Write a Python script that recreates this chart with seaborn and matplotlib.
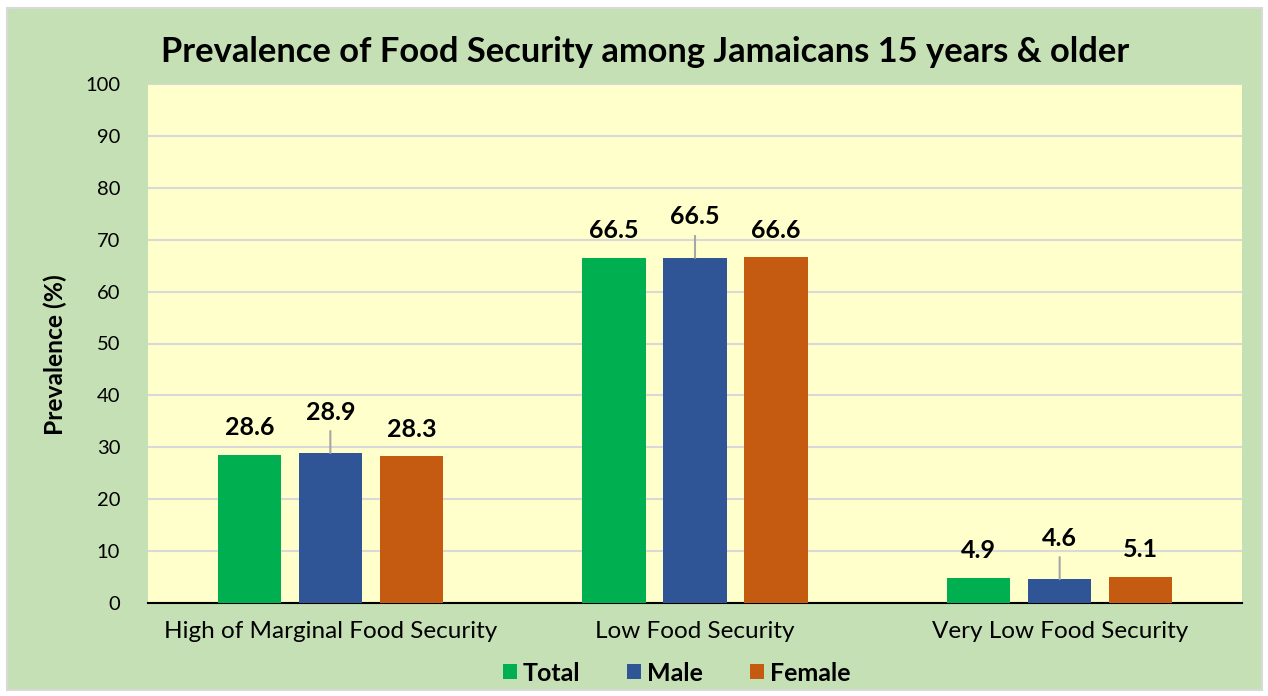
import pandas as pd
import matplotlib.pyplot as plt
import seaborn as sns
from matplotlib.patches import Rectangle

# values
categories = ['High of Marginal Food Security', 'Low Food Security', 'Very Low Food Security']
groups = ['Total', 'Male', 'Female']
total = [28.6, 66.5, 4.9]
male = [28.9, 66.5, 4.6]
female = [28.3, 66.6, 5.1]
yticks = [0, 10, 20, 30, 40, 50, 60, 70, 80, 90, 100]

colors = ['#00B050', '#2F5597', '#C55A11']
# labels that sit higher with a leader line (group, category index)
leader = {('Male', 0), ('Male', 1), ('Male', 2)}

df = pd.DataFrame({
    'category': categories * 3,
    'group': [g for g in groups for _ in categories],
    'value': total + male + female,
})

sns.set_style('white')
plt.rcParams['font.family'] = ['Lato', 'DejaVu Sans']
plt.rcParams['text.color'] = 'black'
plt.rcParams['xtick.color'] = 'black'
plt.rcParams['ytick.color'] = 'black'
plt.rcParams['axes.labelcolor'] = 'black'

fig = plt.figure(figsize=(12.68, 6.96), dpi=100, facecolor='white')
fig.patches.append(Rectangle((7 / 1268, 6 / 696), 1255 / 1268, 682 / 696,
                             transform=fig.transFigure, facecolor='#C5E0B4',
                             edgecolor='#D9D9D9', linewidth=1.5, zorder=-5))

ax = fig.add_axes([148 / 1268, 93 / 696, 1094 / 1268, 519 / 696])
ax.set_facecolor('#FFFFCC')

sns.barplot(data=df, x='category', y='value', hue='group', hue_order=groups,
            palette=colors, width=0.666, gap=0.22, saturation=1,
            edgecolor='none', ax=ax, legend=True, zorder=3)

ax.set_ylim(0, 100)
ax.set_xlim(-0.5, 2.5)
ax.set_yticks(yticks)
ax.yaxis.grid(True, color='#D9D9D9', linewidth=1.5, zorder=0)
ax.set_axisbelow(True)
for s in ['top', 'right', 'left']:
    ax.spines[s].set_visible(False)
ax.spines['bottom'].set_color('black')
ax.spines['bottom'].set_linewidth(1.5)
ax.tick_params(axis='y', length=0, labelsize=14.5, pad=20)
ax.tick_params(axis='x', length=0, labelsize=17.5, pad=13)
ax.set_xlabel('')
ax.set_ylabel('Prevalence (%)', fontsize=17.7, fontweight='bold', labelpad=13)
ax.yaxis.label.set_y(0.478)

for cont, g in zip(ax.containers, groups):
    for i, bar in enumerate(cont):
        x = bar.get_x() + bar.get_width() / 2
        h = bar.get_height()
        if (g, i) in leader:
            ax.annotate('', xy=(x, h), xytext=(0, 22), textcoords='offset pixels',
                        arrowprops=dict(arrowstyle='-', color='#A6A6A6', lw=1.5,
                                        shrinkA=0, shrinkB=0))
            off = 41
        else:
            off = 27
        ax.annotate(f'{h:.1f}', xy=(x, h), xytext=(0, off), textcoords='offset pixels',
                    ha='center', va='center', fontsize=18, fontweight='bold', zorder=5)

leg = ax.legend(loc='center', bbox_to_anchor=(0.483, -0.135), ncol=3, frameon=False,
                handlelength=0.56, handleheight=0.56, handletextpad=0.22, columnspacing=1.9,
                prop={'size': 18, 'weight': 'bold'})

fig.text(645 / 1268, 0.925, 'Prevalence of Food Security among Jamaicans 15 years & older',
         ha='center', va='center', fontsize=24.8, fontweight='bold')

fig.savefig('out.png', dpi=100, facecolor='white')
